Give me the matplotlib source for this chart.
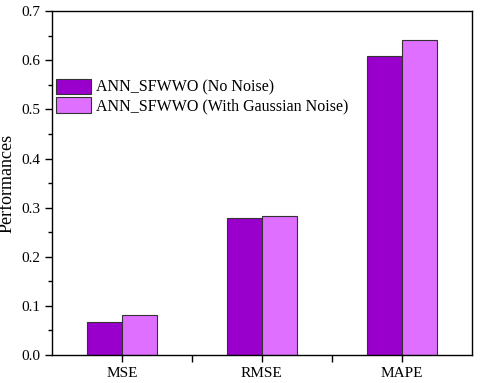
import numpy as np
from matplotlib import pyplot as plt
from matplotlib.ticker import MultipleLocator

plt.rcParams['font.family'] = ['Liberation Serif', 'DejaVu Serif']

# data
metrics = ['MSE', 'RMSE', 'MAPE']
no_noise = [0.067, 0.279, 0.608]
with_noise = [0.081, 0.284, 0.641]
labels = ['ANN_SFWWO (No Noise)', 'ANN_SFWWO (With Gaussian Noise)']

fig = plt.figure(figsize=(4.8, 3.83), dpi=100)
ax = fig.add_axes([0.108, 0.073, 0.875, 0.898])

x = np.arange(len(metrics))
w = 0.25
ax.bar(x - w/2, no_noise, w, color='#9900CC', edgecolor='#333333', linewidth=0.8, label=labels[0])
ax.bar(x + w/2, with_noise, w, color='#DE6FFF', edgecolor='#333333', linewidth=0.8, label=labels[1])

ax.set_xlim(-0.5, 2.5)
ax.set_ylim(0, 0.7)
ax.set_xticks(x)
ax.set_xticklabels(metrics, fontsize=11)
ax.set_xticks([0.5, 1.5], minor=True)
ax.yaxis.set_major_locator(MultipleLocator(0.1))
ax.yaxis.set_minor_locator(MultipleLocator(0.05))
ax.yaxis.set_major_formatter(plt.FormatStrFormatter('%.1f'))
ax.tick_params(axis='y', which='major', labelsize=11, length=5, width=1, direction='out')
ax.tick_params(axis='y', which='minor', length=3, width=1, direction='out')
ax.tick_params(axis='x', which='both', length=5, width=1, direction='out')
ax.set_ylabel('Performances', fontsize=13, labelpad=4)
for s in ax.spines.values():
    s.set_linewidth(1)

ax.legend(loc='upper left', bbox_to_anchor=(0.0, 0.815), frameon=False, fontsize=11.5,
          handlelength=2.2, handleheight=1.1, handletextpad=0.3, labelspacing=0.1,
          borderaxespad=0.15, borderpad=0.1)

fig.savefig('out.png', dpi=100)
